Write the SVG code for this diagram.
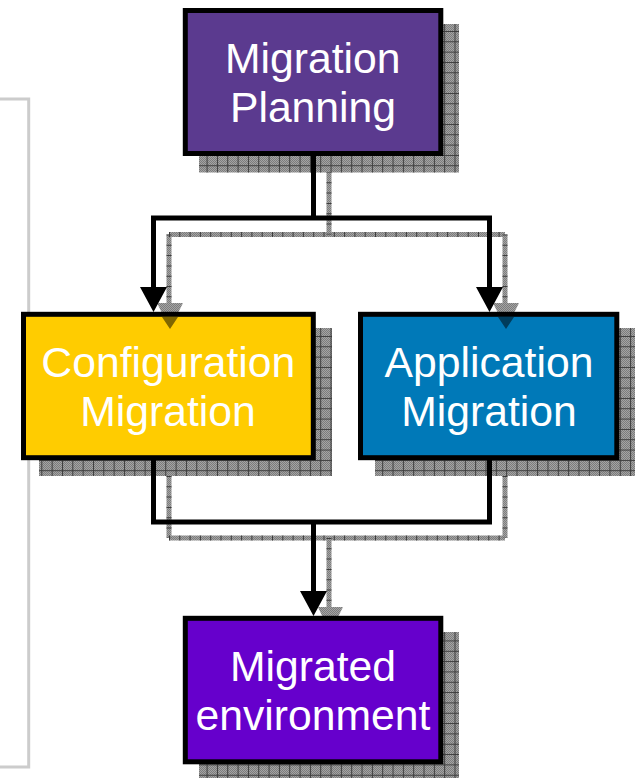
<svg xmlns="http://www.w3.org/2000/svg" xmlns:xlink="http://www.w3.org/1999/xlink" width="635" height="778" viewBox="0 0 635 778">
<style>
.t{font-family:"Liberation Sans",Arial,sans-serif;font-size:42.700px;fill:#fff;text-anchor:middle}
.box{stroke:#000;stroke-width:5}
.k{fill:none;stroke:#000;stroke-width:5}
.s{fill:none;stroke:url(#dots);stroke-width:5}
.d{fill:none;stroke:#3c3c3c;stroke-width:5;stroke-dasharray:1 9.3}
.dots{fill:url(#dots)}
</style>
<defs>
<pattern id="dots" width="2" height="2" patternUnits="userSpaceOnUse"><rect width="2" height="2" fill="#a4a4a4"/><rect width="1" height="1" fill="#7c7c7c"/><rect x="1" y="1" width="1" height="1" fill="#7c7c7c"/></pattern>
<pattern id="grid" width="10.33" height="10.33" patternUnits="userSpaceOnUse"><path d="M.5 0V10.33M0 .5H10.33" stroke="#3c3c3c" stroke-width="1" fill="none"/></pattern>
<pattern id="grid2" href="#grid" xlink:href="#grid" patternTransform="translate(0 5.400)"/>
</defs>
<path d="M0 99H28.700V767H0" fill="none" stroke="#ccc" stroke-width="3"/>
<g id="connector-shadows">
<path class="s" d="M329 172V234.500M169 234.500H505M169 234.500V305M505 234.500V305M169 476V538M505 476V538M169 538H505M329 538V609"/>
<path class="d" d="M329 172V234.500M169 234.500H505M169 234.500V305M505 234.500V305M169 476V538M505 476V538M169 538H505M329 538V609"/>
<path class="dots" d="M157 303H183L170 329ZM493 303H519L506 329ZM318 607H343L330 633Z"/>
</g>
<g id="shadows">
<g class="dots"><rect x="199" y="24" width="260" height="148.500"/><rect x="39" y="328" width="293" height="148"/><rect x="375" y="328" width="260" height="148"/><rect x="199" y="632" width="260" height="146"/></g>
<rect x="199" y="24" width="260" height="148.500" fill="url(#grid)"/><rect x="39" y="328" width="293" height="148" fill="url(#grid2)"/><rect x="375" y="328" width="260" height="148" fill="url(#grid2)"/><rect x="199" y="632" width="260" height="146" fill="url(#grid)"/>
</g>
<g id="migration-planning"><rect class="box" x="185.300" y="10.500" width="255.500" height="143" fill="#5b3a8f"/><text class="t" x="312.700" y="73">Migration</text><text class="t" x="313" y="122">Planning</text></g>
<g id="configuration-migration"><rect class="box" x="23.500" y="314.300" width="289.800" height="143.400" fill="#ffcc00"/><text class="t" x="168.300" y="377">Configuration</text><text class="t" x="168" y="426">Migration</text></g>
<g id="application-migration"><rect class="box" x="360.500" y="314.300" width="256.300" height="143.400" fill="#0079b8"/><text class="t" x="489" y="377">Application</text><text class="t" x="489" y="426">Migration</text></g>
<g id="migrated-environment"><rect class="box" x="185.300" y="618.300" width="255.500" height="143.500" fill="#6600cc"/><text class="t" x="313" y="681">Migrated</text><text class="t" x="313" y="730">environment</text></g>
<g id="connectors">
<path d="M162 317H178L170 329ZM498 317H514L506 329Z" fill="#000" fill-opacity=".5"/>
<path class="k" d="M313.500 156V218M153.500 218H489.500M153.500 215.500V290M489.500 215.500V290M153.500 460V522M489.500 460V522M151 522H492M313.500 522V595"/>
<path d="M140 287H167L153.500 312ZM476 287H503L489.500 312ZM300 591H327L313.500 616Z" fill="#000"/>
</g>
</svg>
